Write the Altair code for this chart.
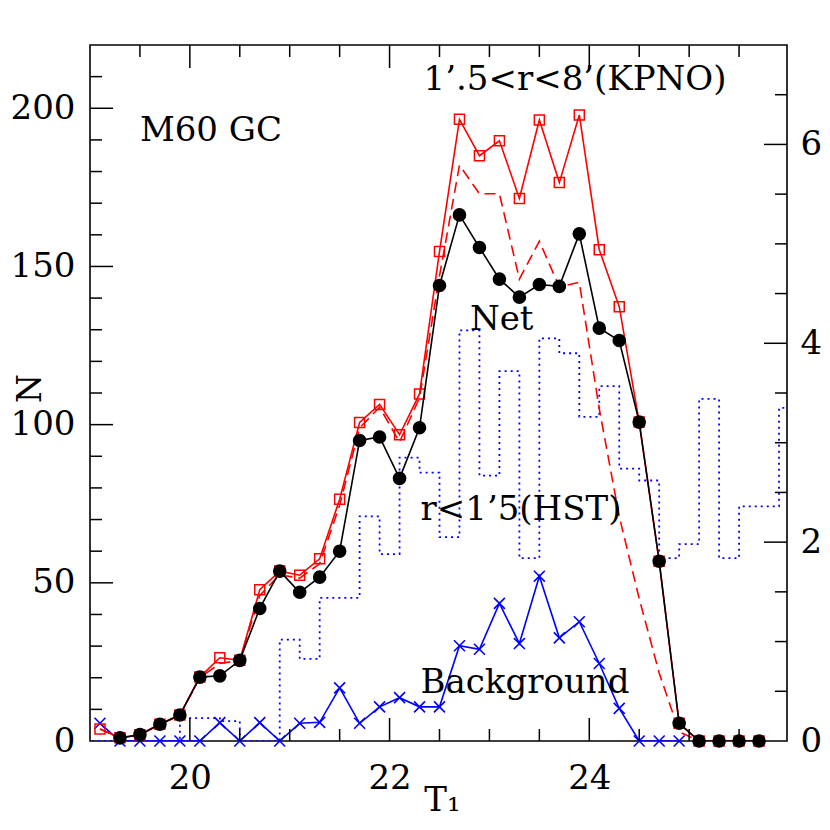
import altair as alt
import pandas as pd

# ---------------- data ----------------
net_T = [19.3, 19.5, 19.7, 19.9, 20.1, 20.3, 20.5, 20.7, 20.9, 21.1, 21.3, 21.5, 21.7, 21.9,
         22.1, 22.3, 22.5, 22.7, 22.9, 23.1, 23.3, 23.5, 23.7, 23.9, 24.1, 24.3, 24.5, 24.7,
         24.9, 25.1, 25.3, 25.5, 25.7]
net_N = [1, 2, 5.3, 8.2, 20.2, 20.6, 25.5, 41.9, 53.7, 47, 51.8, 60, 95, 96.1,
         83, 99, 144, 166.3, 156, 146, 140.3, 144.3, 143.7, 160.3, 130.5, 126.6, 100.8, 56.8,
         5.6, 0, 0, 0, 0]

tot_T = [19.1] + net_T
tot_N = [3.8, 1, 2, 5.3, 8.2, 20.2, 26.3, 25.5, 47.8, 53.7, 52.4, 57.6, 76.4, 100.7, 106.4,
         96.8, 109.7, 154.7, 196.5, 185, 189.7, 171.5, 196.3, 176.5, 197.9, 155.3, 137.3,
         100.8, 56.8, 5.6, 0, 0, 0, 0]

dash_T = [19.1, 19.3, 19.5, 19.7, 19.9, 20.1, 20.3, 20.5, 20.7, 20.9, 21.1, 21.3, 21.5, 21.7,
          21.9, 22.1, 22.3, 22.5, 22.7, 22.9, 23.1, 23.3, 23.5, 23.7, 23.9, 24.1, 24.3, 24.5,
          24.7, 24.9, 25.1]
dash_N = [3.8, 1, 2, 5.3, 8.2, 20, 24.5, 25.5, 46, 52.5, 51.5, 56, 74.5, 99,
          105.5, 94.5, 108.5, 147, 182, 173, 173, 146, 158, 143.5, 145, 105, 71, 45,
          21.5, 2.9, 0]

bg_T = [19.1, 19.3, 19.5, 19.7, 19.9, 20.1, 20.3, 20.5, 20.7, 20.9, 21.1, 21.3, 21.5, 21.7,
        21.9, 22.1, 22.3, 22.5, 22.7, 22.9, 23.1, 23.3, 23.5, 23.7, 23.9, 24.1, 24.3, 24.5,
        24.7, 24.9]
bg_N = [5.6, 0, 0, 0, 0, 0, 5.8, 0, 5.8, 0, 5.6, 5.9, 16.8, 5.6,
        10.8, 13.7, 10.8, 10.8, 30.1, 29, 43.5, 30.8, 52.1, 32.6, 37.7, 24.5, 10.3, 0,
        0, 0]

hst_lo = [18.9, 19.9, 20.1, 20.3, 20.5, 20.7, 20.9, 21.1, 21.3, 21.5, 21.7, 21.9, 22.1, 22.3,
          22.5, 22.7, 22.9, 23.1, 23.3, 23.5, 23.7, 23.9, 24.1, 24.3, 24.5, 24.7, 24.9, 25.1,
          25.3, 25.5, 25.7, 25.9, 26.1]
hst_N = [0, 0.23, 0.23, 0.2, 0, 0, 1.02, 0.825, 1.44, 1.44, 2.26, 1.88, 2.85, 2.70,
         2.05, 4.13, 2.67, 3.72, 1.84, 4.05, 3.90, 3.26, 3.57, 2.74, 2.62, 1.84, 1.98, 3.44,
         1.84, 2.36, 2.36, 3.35, 3.35]

x_major = [20, 22, 24]
x_minor = [19.5, 20.5, 21, 21.5, 22.5, 23, 23.5, 24.5, 25, 25.5]
yl_labels = [0, 50, 100, 150, 200]
yl_major = [50, 100, 150, 200]
yl_minor = [10, 20, 30, 40, 60, 70, 80, 90, 110, 120, 130, 140, 160, 170, 180, 190, 210]
yr_labels = [0, 2, 4, 6]
yr_major = [2, 4, 6]
yr_minor = [0.5, 1, 1.5, 2.5, 3, 3.5, 4.5, 5, 5.5, 6.5]

ann_text = ["M60  GC", "1\u2019.5<r<8\u2019(KPNO)", "Net", "r<1\u20195(HST)", "Background"]
ann_T = [19.5, 22.34, 22.805, 22.31, 22.31]
ann_N = [189.6, 205.8, 129.9, 69.9, 15.1]

# ---------------- chart ----------------
W, H = 697, 696
FONT = "DejaVu Serif"
MAJ, MIN = 23, 12
LFS = 34

xs = alt.Scale(domain=[19.0, 25.98], nice=False, zero=False)
ysL = alt.Scale(domain=[0, 220], nice=False, zero=False)
ysR = alt.Scale(domain=[0, 7], nice=False, zero=False)

XAXIS = alt.Axis(
    values=x_major, ticks=False, domain=False, grid=False, labelFont=FONT,
    labelFontSize=LFS, labelColor="black", labelPadding=20, title="T\u2081",
    titleFont=FONT, titleFontSize=34, titleFontWeight="normal", titleColor="black",
    titleBaseline="alphabetic", titleY=69, titleX=352)
YAXIS_L = alt.Axis(
    values=yl_labels, ticks=False, domain=False, grid=False, labelFont=FONT,
    labelFontSize=LFS, labelColor="black", labelPadding=15, title="N",
    titleFont=FONT, titleFontSize=33, titleFontWeight="normal", titleColor="black",
    titleAngle=270, titleAlign="center", titleBaseline="alphabetic",
    titleX=-50, titleY=343)
YAXIS_R = alt.Axis(
    orient="right", values=yr_labels, ticks=False, domain=False, grid=False,
    labelFont=FONT, labelFontSize=LFS, labelColor="black", labelPadding=13,
    labelAlign="left", title=None)


def df(**kw):
    return pd.DataFrame(kw)


def X():
    return alt.X("T:Q", scale=xs, axis=XAXIS)


def YL():
    return alt.Y("N:Q", scale=ysL, axis=YAXIS_L)


def YR():
    return alt.Y("N:Q", scale=ysR, axis=YAXIS_R)


net_df = df(T=net_T, N=net_N)
tot_df = df(T=tot_T, N=tot_N)
dash_df = df(T=dash_T, N=dash_N)
bg_df = df(T=bg_T, N=bg_N)
hst_df = df(T=hst_lo, N=hst_N)

xcross = "M-1,-1L1,1M-1,1L1,-1"

bg_line = alt.Chart(bg_df).mark_line(color="#0000ff", strokeWidth=1.6, clip=True).encode(x=X(), y=YL())
bg_pts = alt.Chart(bg_df).mark_point(shape=xcross, size=120, color="#0000ff", strokeWidth=1.6,
                                     filled=False, opacity=1).encode(x=X(), y=YL())
dash_line = alt.Chart(dash_df).mark_line(color="#ff0000", strokeWidth=1.6, strokeDash=[11, 6],
                                         clip=True).encode(x=X(), y=YL())
tot_line = alt.Chart(tot_df).mark_line(color="#ff0000", strokeWidth=1.6, clip=True).encode(x=X(), y=YL())
tot_pts = alt.Chart(tot_df).mark_point(shape="square", size=100, color="#ff0000", strokeWidth=1.5,
                                       filled=False, opacity=1).encode(x=X(), y=YL())
net_line = alt.Chart(net_df).mark_line(color="black", strokeWidth=1.6, clip=True).encode(x=X(), y=YL())
net_pts = alt.Chart(net_df).mark_circle(size=185, color="black", opacity=1).encode(x=X(), y=YL())


def vrules(vals, top, length):
    d = df(T=vals)
    if top:
        return alt.Chart(d).mark_rule(color="black", strokeWidth=1.5).encode(
            x=X(), y=alt.value(0), y2=alt.value(length))
    return alt.Chart(d).mark_rule(color="black", strokeWidth=1.5).encode(
        x=X(), y=alt.value(H), y2=alt.value(H - length))


def hrules(vals, yenc, right, length):
    d = df(N=vals)
    if right:
        return alt.Chart(d).mark_rule(color="black", strokeWidth=1.5).encode(
            y=yenc(), x=alt.value(W), x2=alt.value(W - length))
    return alt.Chart(d).mark_rule(color="black", strokeWidth=1.5).encode(
        y=yenc(), x=alt.value(0), x2=alt.value(length))


ann = alt.Chart(df(label=ann_text, T=ann_T, N=ann_N)).mark_text(
    font=FONT, fontSize=34, align="left", baseline="alphabetic", color="black").encode(
    x=X(), y=YL(), text="label:N")

left_group = alt.layer(
    bg_line, bg_pts, dash_line, tot_line, tot_pts, net_line, net_pts,
    vrules(x_major, False, MAJ), vrules(x_minor, False, MIN),
    vrules(x_major, True, MAJ), vrules(x_minor, True, MIN),
    hrules(yl_major, YL, False, MAJ), hrules(yl_minor, YL, False, MIN),
    ann,
)

hst_line = alt.Chart(hst_df).mark_line(color="#0000ff", strokeWidth=1.8, strokeDash=[2, 4],
                                       interpolate="step-after", clip=True).encode(x=X(), y=YR())

right_group = alt.layer(
    hst_line,
    hrules(yr_major, YR, True, MAJ), hrules(yr_minor, YR, True, MIN),
)

chart = alt.layer(right_group, left_group).resolve_scale(y="independent").properties(
    width=W, height=H,
    autosize=alt.AutoSizeParams(type="none"),
    padding={"left": 82, "top": 37, "right": 35, "bottom": 81},
    background="white",
).configure_view(stroke="black", strokeWidth=1.6)

chart.save("out.html", embed_options={"renderer": "svg", "actions": False})
